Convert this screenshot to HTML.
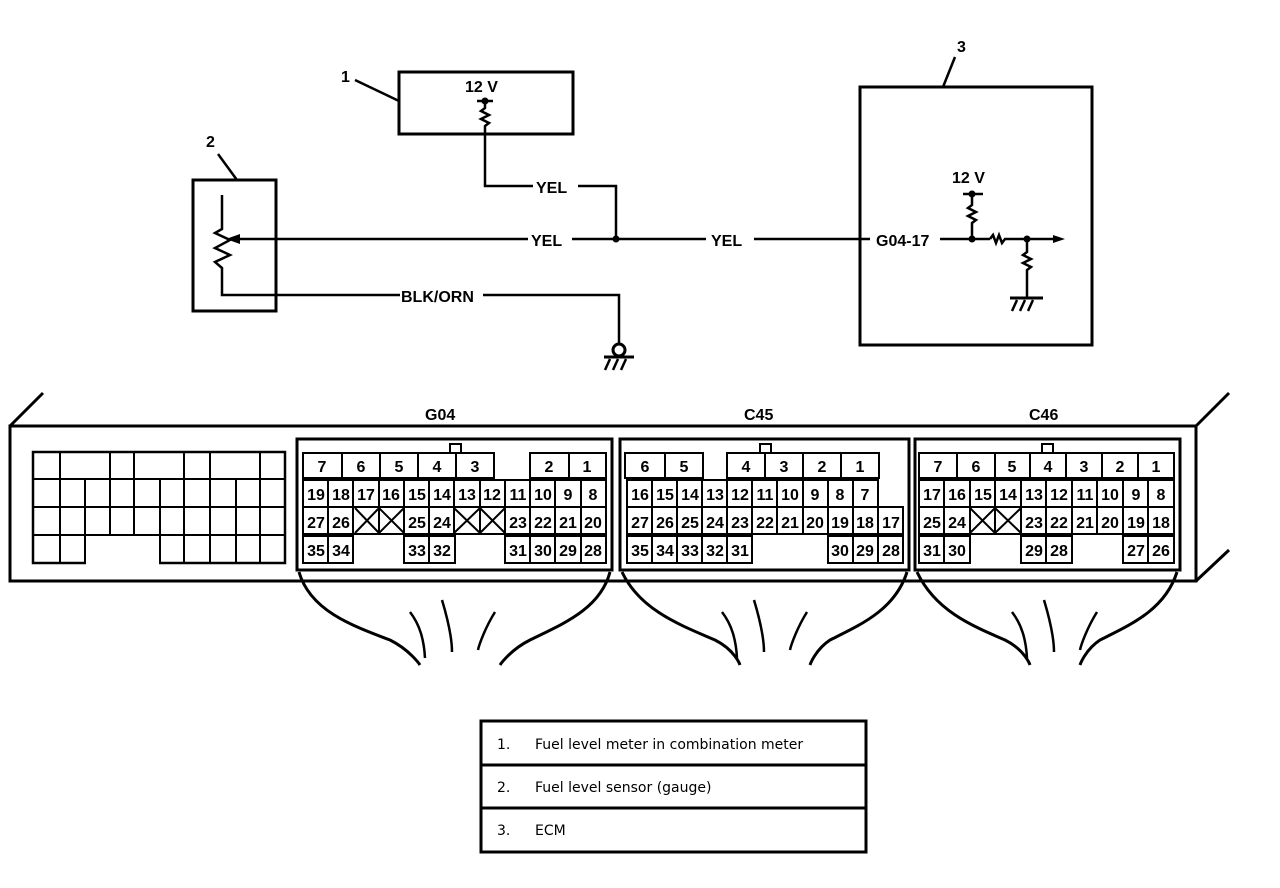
<!DOCTYPE html>
<html><head><meta charset="utf-8"><style>
html,body{margin:0;padding:0;background:#fff;}
svg{display:block}
.c text{font:bold 16px "Liberation Sans",sans-serif;text-anchor:middle}
.lb{font:bold 16px "Liberation Sans",sans-serif}
.tb{font:14px "DejaVu Sans","Liberation Sans",sans-serif}
</style></head><body>
<svg width="1280" height="888" viewBox="0 0 1280 888" xmlns="http://www.w3.org/2000/svg">
<g fill="none" stroke="#000" stroke-width="2.5">
<rect x="399" y="72" width="174" height="62" stroke-width="3"/>
<line x1="355" y1="80" x2="399" y2="101"/>
<line x1="477" y1="101" x2="493" y2="101"/>
<polyline points="485,101 485,108 481,111 489,115 481,119 489,123 485,126 485,186 533,186"/>
<polyline points="578,186 616,186 616,239"/>
<rect x="193" y="180" width="83" height="131" stroke-width="3"/>
<line x1="218" y1="154" x2="237" y2="180"/>
<polyline points="222,195 222,229 215,233 230,240 215,248 230,255 215,262 222,268 222,295 400,295"/>
<polyline points="483,295 619,295 619,343"/>
<circle cx="619" cy="350" r="6" stroke-width="3"/>
<line x1="604" y1="357" x2="634" y2="357" stroke-width="3"/>
<line x1="610" y1="359" x2="605" y2="370"/><line x1="618" y1="359" x2="613" y2="370"/><line x1="626" y1="359" x2="621" y2="370"/>
<line x1="238" y1="239" x2="528" y2="239"/>
<line x1="572" y1="239" x2="706" y2="239"/>
<line x1="754" y1="239" x2="870" y2="239"/>
<rect x="860" y="87" width="232" height="258" stroke-width="3"/>
<line x1="955" y1="57" x2="943" y2="87"/>
<line x1="940" y1="239" x2="990" y2="239"/>
<polyline points="990,239 993,235 996,243 999,235 1002,243 1005,239 1055,239"/>
<line x1="963" y1="194" x2="983" y2="194"/>
<polyline points="972,194 972,205 968,208 976,212 968,216 976,220 972,223 972,239"/>
<polyline points="1027,239 1027,252 1023,255 1031,259 1023,263 1031,267 1027,270 1027,297"/>
<line x1="1010" y1="298" x2="1043" y2="298" stroke-width="3"/>
<line x1="1017" y1="300" x2="1012" y2="311"/><line x1="1025" y1="300" x2="1020" y2="311"/><line x1="1033" y1="300" x2="1028" y2="311"/>
</g>
<g fill="#000">
<polygon points="226,239 240,234 240,244"/>
<polygon points="1065,239 1053,235 1053,243"/>
<circle cx="485" cy="101" r="3.5"/>
<circle cx="616" cy="239" r="3.5"/>
<circle cx="972" cy="194" r="3.5"/>
<circle cx="972" cy="239" r="3.5"/>
<circle cx="1027" cy="239" r="3.5"/>
</g>
<g class="lb">
<text x="341" y="82">1</text>
<text x="206" y="147">2</text>
<text x="957" y="52">3</text>
<text x="465" y="92">12 V</text>
<text x="536" y="193">YEL</text>
<text x="531" y="246">YEL</text>
<text x="711" y="246">YEL</text>
<text x="401" y="302">BLK/ORN</text>
<text x="952" y="183">12 V</text>
<text x="876" y="246">G04-17</text>
<text x="425" y="420">G04</text>
<text x="744" y="420">C45</text>
<text x="1029" y="420">C46</text>
</g>
<g fill="none" stroke="#000" stroke-width="3">
<rect x="10" y="426" width="1186" height="155"/>
<line x1="10" y1="426" x2="43" y2="393"/>
<line x1="1196" y1="426" x2="1229" y2="393"/>
<line x1="1196" y1="581" x2="1229" y2="550"/>
<rect x="297" y="439" width="315" height="131"/>
<rect x="620" y="439" width="289" height="131"/>
<rect x="915" y="439" width="265" height="131"/>
<path d="M299,572 C310,610 350,625 390,640 C410,650 420,665 420,665"/>
<path d="M610,572 C600,610 560,625 530,640 C510,650 500,665 500,665"/>
<path d="M622,572 C640,610 680,625 715,640 C735,650 740,665 740,665"/>
<path d="M907,572 C895,610 860,625 830,640 C815,650 810,665 810,665"/>
<path d="M917,572 C935,610 970,625 1005,640 C1025,650 1030,665 1030,665"/>
<path d="M1177,572 C1165,610 1130,625 1100,640 C1085,650 1080,665 1080,665"/>
</g>
<g fill="none" stroke="#000" stroke-width="2.5">
<path id="w1" d="M410,612 C420,625 424,640 425,658"/><path d="M442,600 C448,620 452,640 452,652"/><path d="M495,612 C485,628 479,645 478,650"/>
<g transform="translate(312,0)"><path d="M410,612 C420,625 424,640 425,658"/><path d="M442,600 C448,620 452,640 452,652"/><path d="M495,612 C485,628 479,645 478,650"/></g>
<g transform="translate(602,0)"><path d="M410,612 C420,625 424,640 425,658"/><path d="M442,600 C448,620 452,640 452,652"/><path d="M495,612 C485,628 479,645 478,650"/></g>
</g>
<g fill="none" stroke="#000" stroke-width="2">
<rect x="33" y="452" width="252" height="111" stroke-width="2.5"/>
<line x1="33" y1="479" x2="285" y2="479"/><line x1="33" y1="507" x2="285" y2="507"/><line x1="33" y1="535" x2="285" y2="535"/>
<line x1="60" y1="452" x2="60" y2="563"/><line x1="110" y1="452" x2="110" y2="535"/><line x1="134" y1="452" x2="134" y2="535"/>
<line x1="184" y1="452" x2="184" y2="563"/><line x1="210" y1="452" x2="210" y2="563"/><line x1="260" y1="452" x2="260" y2="563"/>
<line x1="85" y1="479" x2="85" y2="563"/><line x1="160" y1="479" x2="160" y2="563"/><line x1="236" y1="479" x2="236" y2="563"/>
<rect x="86" y="536" width="73" height="29" fill="#fff" stroke="none"/>
<line x1="85" y1="535" x2="160" y2="535"/>
</g>
<g fill="#fff" stroke="#000" stroke-width="2">
<rect x="450" y="444" width="11" height="9"/><rect x="760" y="444" width="11" height="9"/><rect x="1042" y="444" width="11" height="9"/>
</g>
<g class="c" fill="none" stroke="#000" stroke-width="2">
<rect x="303" y="453" width="39" height="25"/><rect x="342" y="453" width="38" height="25"/><rect x="380" y="453" width="38" height="25"/><rect x="418" y="453" width="38" height="25"/><rect x="456" y="453" width="38" height="25"/><rect x="530" y="453" width="39" height="25"/><rect x="569" y="453" width="37" height="25"/>
<rect x="303" y="480" width="303" height="27"/><rect x="303" y="507" width="303" height="27"/>
<path d="M328,480V534M353,480V534M379,480V534M404,480V534M429,480V534M454,480V534M480,480V534M505,480V534M530,480V534M555,480V534M581,480V534"/>
<path d="M355,508L379,533M379,508L355,533M379,508L404,533M404,508L379,533M454,508L480,533M480,508L454,533M480,508L505,533M505,508L480,533"/>
<rect x="303" y="536" width="50" height="27"/><line x1="328" y1="536" x2="328" y2="563"/>
<rect x="404" y="536" width="51" height="27"/><line x1="429" y1="536" x2="429" y2="563"/>
<rect x="505" y="536" width="101" height="27"/><path d="M530,536V563M555,536V563M581,536V563"/>
<rect x="625" y="453" width="40" height="25"/><rect x="665" y="453" width="38" height="25"/><rect x="727" y="453" width="38" height="25"/><rect x="765" y="453" width="38" height="25"/><rect x="803" y="453" width="38" height="25"/><rect x="841" y="453" width="38" height="25"/>
<rect x="627" y="480" width="251" height="27"/><rect x="627" y="507" width="276" height="27"/>
<path d="M652,480V534M677,480V534M702,480V534M727,480V534M752,480V534M777,480V534M803,480V534M828,480V534M853,480V534M878,507V534"/>
<rect x="627" y="536" width="125" height="27"/><path d="M652,536V563M677,536V563M702,536V563M727,536V563"/>
<rect x="828" y="536" width="75" height="27"/><path d="M853,536V563M878,536V563"/>
<rect x="919" y="453" width="38" height="25"/><rect x="957" y="453" width="38" height="25"/><rect x="995" y="453" width="35" height="25"/><rect x="1030" y="453" width="36" height="25"/><rect x="1066" y="453" width="36" height="25"/><rect x="1102" y="453" width="36" height="25"/><rect x="1138" y="453" width="36" height="25"/>
<rect x="919" y="480" width="255" height="27"/><rect x="919" y="507" width="255" height="27"/>
<path d="M944,480V534M970,480V534M995,480V534M1021,480V534M1046,480V534M1072,480V534M1097,480V534M1123,480V534M1148,480V534"/>
<path d="M970,508L995,533M995,508L970,533M995,508L1021,533M1021,508L995,533"/>
<rect x="919" y="536" width="51" height="27"/><line x1="944" y1="536" x2="944" y2="563"/>
<rect x="1021" y="536" width="51" height="27"/><line x1="1046" y1="536" x2="1046" y2="563"/>
<rect x="1123" y="536" width="51" height="27"/><line x1="1148" y1="536" x2="1148" y2="563"/>
<g fill="#000" stroke="none">
<text x="322" y="472">7</text><text x="361" y="472">6</text><text x="399" y="472">5</text><text x="437" y="472">4</text><text x="475" y="472">3</text><text x="549" y="472">2</text><text x="587" y="472">1</text>
<text x="316" y="500">19</text><text x="341" y="500">18</text><text x="366" y="500">17</text><text x="391" y="500">16</text><text x="417" y="500">15</text><text x="442" y="500">14</text><text x="467" y="500">13</text><text x="492" y="500">12</text><text x="518" y="500">11</text><text x="543" y="500">10</text><text x="568" y="500">9</text><text x="593" y="500">8</text>
<text x="316" y="528">27</text><text x="341" y="528">26</text><text x="417" y="528">25</text><text x="442" y="528">24</text><text x="518" y="528">23</text><text x="543" y="528">22</text><text x="568" y="528">21</text><text x="593" y="528">20</text>
<text x="316" y="556">35</text><text x="341" y="556">34</text><text x="417" y="556">33</text><text x="442" y="556">32</text><text x="518" y="556">31</text><text x="543" y="556">30</text><text x="568" y="556">29</text><text x="593" y="556">28</text>
<text x="645" y="472">6</text><text x="684" y="472">5</text><text x="746" y="472">4</text><text x="784" y="472">3</text><text x="822" y="472">2</text><text x="860" y="472">1</text>
<text x="640" y="500">16</text><text x="665" y="500">15</text><text x="690" y="500">14</text><text x="715" y="500">13</text><text x="740" y="500">12</text><text x="765" y="500">11</text><text x="790" y="500">10</text><text x="815" y="500">9</text><text x="840" y="500">8</text><text x="865" y="500">7</text>
<text x="640" y="528">27</text><text x="665" y="528">26</text><text x="690" y="528">25</text><text x="715" y="528">24</text><text x="740" y="528">23</text><text x="765" y="528">22</text><text x="790" y="528">21</text><text x="815" y="528">20</text><text x="840" y="528">19</text><text x="865" y="528">18</text><text x="891" y="528">17</text>
<text x="640" y="556">35</text><text x="665" y="556">34</text><text x="690" y="556">33</text><text x="715" y="556">32</text><text x="740" y="556">31</text><text x="840" y="556">30</text><text x="865" y="556">29</text><text x="891" y="556">28</text>
<text x="938" y="472">7</text><text x="976" y="472">6</text><text x="1012" y="472">5</text><text x="1048" y="472">4</text><text x="1084" y="472">3</text><text x="1120" y="472">2</text><text x="1156" y="472">1</text>
<text x="932" y="500">17</text><text x="957" y="500">16</text><text x="983" y="500">15</text><text x="1008" y="500">14</text><text x="1034" y="500">13</text><text x="1059" y="500">12</text><text x="1085" y="500">11</text><text x="1110" y="500">10</text><text x="1136" y="500">9</text><text x="1161" y="500">8</text>
<text x="932" y="528">25</text><text x="957" y="528">24</text><text x="1034" y="528">23</text><text x="1059" y="528">22</text><text x="1085" y="528">21</text><text x="1110" y="528">20</text><text x="1136" y="528">19</text><text x="1161" y="528">18</text>
<text x="932" y="556">31</text><text x="957" y="556">30</text><text x="1034" y="556">29</text><text x="1059" y="556">28</text><text x="1136" y="556">27</text><text x="1161" y="556">26</text>
</g>
</g>
<g fill="none" stroke="#000" stroke-width="3">
<rect x="481" y="721" width="385" height="131"/>
<line x1="481" y1="765" x2="866" y2="765"/><line x1="481" y1="808" x2="866" y2="808"/>
</g>
<g class="tb" fill="#000">
<text x="497" y="749">1.</text><text x="535" y="749">Fuel level meter in combination meter</text>
<text x="497" y="792">2.</text><text x="535" y="792">Fuel level sensor (gauge)</text>
<text x="497" y="835">3.</text><text x="535" y="835">ECM</text>
</g>
</svg>
</body></html>
